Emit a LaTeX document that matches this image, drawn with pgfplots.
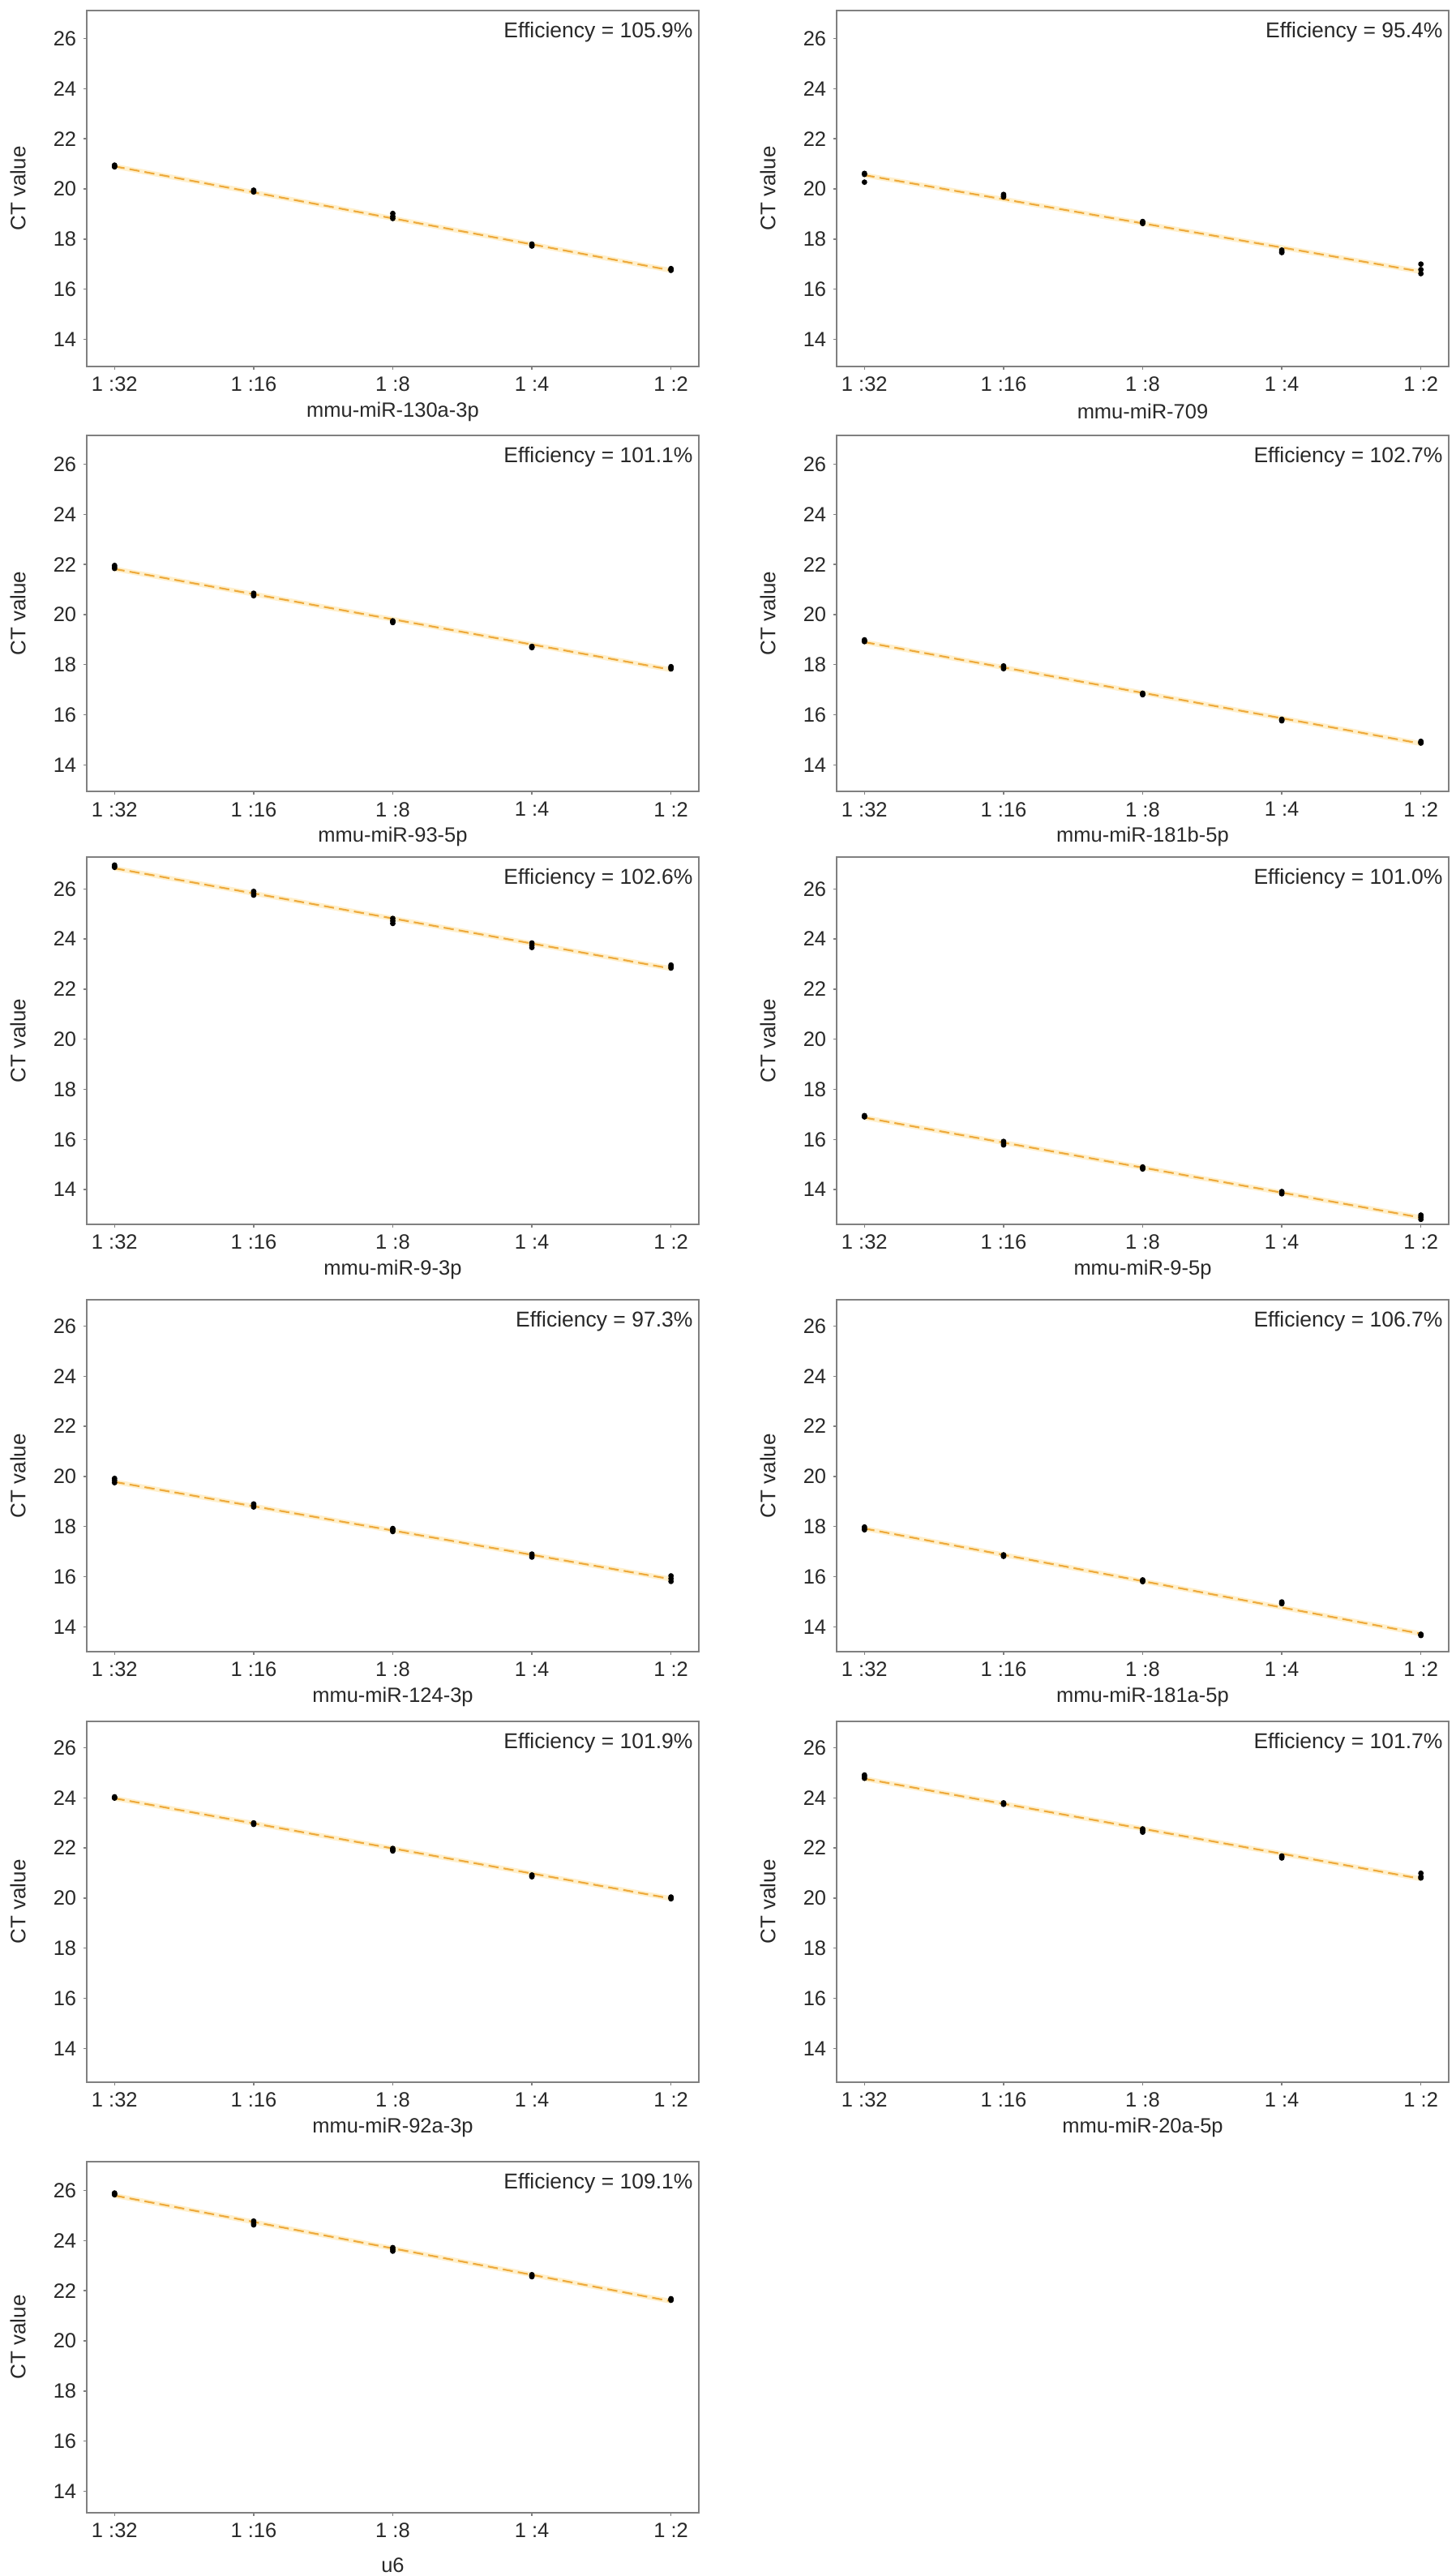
\documentclass[border=0pt]{standalone}
\usepackage{pgfplots}
\pgfplotsset{compat=1.18}
\usepackage{fontspec}
\setmainfont{Liberation Sans}

\definecolor{framegray}{RGB}{128,128,128}
\definecolor{labelgray}{RGB}{40,40,40}
\definecolor{fitorange}{RGB}{238,170,60}
\definecolor{bandyellow}{RGB}{255,240,205}

\pgfplotsset{
  panel/.style={
    scale only axis, width=302pt, y=12.36pt, anchor=north west,
    xmin=0.8, xmax=5.2,
    xtick={1,2,3,4,5}, xticklabels={1 :32,1 :16,1 :8,1 :4,1 :2},
    ytick={14,16,18,20,22,24,26},
    /pgf/number format/assume math mode=true,
    axis line style={draw=framegray, line width=0.8pt},
    tick align=outside, tick pos=left, major tick length=1.6pt,
    every tick/.style={draw=framegray, line width=0.6pt},
    tick label style={text=labelgray, font=\fontsize{10.2}{12}\selectfont},
    ylabel={CT value},
    every axis y label/.style={at={(axis description cs:-0.1126,0.5)}, anchor=center,
      rotate=90, text=labelgray, font=\fontsize{10.4}{12}\selectfont},
    every axis x label/.style={at={(axis description cs:0.5,0)}, anchor=center,
      yshift=-22.4pt, text=labelgray, font=\fontsize{10.2}{12}\selectfont},
  },
  fitband/.style={no marks, draw=bandyellow, line width=2.4pt, forget plot},
  fitline/.style={no marks, draw=fitorange, line width=0.85pt, dash pattern=on 5pt off 2.5pt},
  reps/.style={only marks, mark=*, mark size=1.15pt, black},
}
\tikzset{eff/.style={anchor=north east, inner sep=0pt, xshift=-2.8pt, yshift=-5.6pt,
  text=labelgray, font=\fontsize{10.6}{12}\selectfont}}

\begin{document}
\begin{tikzpicture}
\path[use as bounding box] (0,0) rectangle (718pt,-1270.8pt);

% row 1
\begin{axis}[panel, at={(42.8pt,-5.2pt)}, ymin=12.92, ymax=27.12, xlabel={mmu-miR-130a-3p}]
\addplot[fitband] coordinates {(1,20.9) (5,16.75)};
\addplot[fitline] coordinates {(1,20.9) (5,16.75)};
\addplot[reps] coordinates {(1,20.95) (1,20.9) (1,20.88) (2,19.95) (2,19.9) (2,19.88)
  (3,19.02) (3,18.9) (3,18.82) (4,17.8) (4,17.75) (4,17.72) (5,16.82) (5,16.78) (5,16.75)};
\node[eff] at (axis description cs:1,1) {Efficiency = 105.9\%};
\end{axis}

\begin{axis}[panel, at={(412.8pt,-5.2pt)}, ymin=12.92, ymax=27.12, xlabel={mmu-miR-709}]
\addplot[fitband] coordinates {(1,20.55) (5,16.7)};
\addplot[fitline] coordinates {(1,20.55) (5,16.7)};
\addplot[reps] coordinates {(1,20.62) (1,20.58) (1,20.27) (2,19.78) (2,19.72) (2,19.68)
  (3,18.7) (3,18.66) (3,18.62) (4,17.56) (4,17.5) (4,17.46) (5,17.0) (5,16.78) (5,16.62)};
\node[eff] at (axis description cs:1,1) {Efficiency = 95.4\%};
\end{axis}

% row 2
\begin{axis}[panel, at={(42.8pt,-214.8pt)}, ymin=12.93, ymax=27.15, xlabel={mmu-miR-93-5p}]
\addplot[fitband] coordinates {(1,21.82) (5,17.8)};
\addplot[fitline] coordinates {(1,21.82) (5,17.8)};
\addplot[reps] coordinates {(1,21.96) (1,21.9) (1,21.84) (2,20.85) (2,20.8) (2,20.75)
  (3,19.75) (3,19.72) (3,19.68) (4,18.73) (4,18.7) (4,18.68) (5,17.92) (5,17.88) (5,17.83)};
\node[eff] at (axis description cs:1,1) {Efficiency = 101.1\%};
\end{axis}

\begin{axis}[panel, at={(412.8pt,-214.8pt)}, ymin=12.93, ymax=27.15, xlabel={mmu-miR-181b-5p}]
\addplot[fitband] coordinates {(1,18.9) (5,14.85)};
\addplot[fitline] coordinates {(1,18.9) (5,14.85)};
\addplot[reps] coordinates {(1,18.99) (1,18.95) (1,18.92) (2,17.95) (2,17.9) (2,17.84)
  (3,16.86) (3,16.83) (3,16.8) (4,15.82) (4,15.79) (4,15.76) (5,14.94) (5,14.9) (5,14.87)};
\node[eff] at (axis description cs:1,1) {Efficiency = 102.7\%};
\end{axis}

% row 3
\begin{axis}[panel, at={(42.8pt,-422.8pt)}, ymin=12.6, ymax=27.27, xlabel={mmu-miR-9-3p}]
\addplot[fitband] coordinates {(1,26.82) (5,22.82)};
\addplot[fitline] coordinates {(1,26.82) (5,22.82)};
\addplot[reps] coordinates {(1,26.95) (1,26.9) (1,26.86) (2,25.9) (2,25.82) (2,25.75)
  (3,24.82) (3,24.72) (3,24.62) (4,23.84) (4,23.75) (4,23.66) (5,22.96) (5,22.9) (5,22.84)};
\node[eff] at (axis description cs:1,1) {Efficiency = 102.6\%};
\end{axis}

\begin{axis}[panel, at={(412.8pt,-422.8pt)}, ymin=12.6, ymax=27.27, xlabel={mmu-miR-9-5p}]
\addplot[fitband] coordinates {(1,16.87) (5,12.88)};
\addplot[fitline] coordinates {(1,16.87) (5,12.88)};
\addplot[reps] coordinates {(1,16.95) (1,16.92) (1,16.9) (2,15.92) (2,15.85) (2,15.78)
  (3,14.9) (3,14.86) (3,14.82) (4,13.92) (4,13.87) (4,13.83) (5,12.98) (5,12.9) (5,12.81)};
\node[eff] at (axis description cs:1,1) {Efficiency = 101.0\%};
\end{axis}

% row 4
\begin{axis}[panel, at={(42.8pt,-641.2pt)}, ymin=13.0, ymax=27.05, xlabel={mmu-miR-124-3p}]
\addplot[fitband] coordinates {(1,19.78) (5,15.9)};
\addplot[fitline] coordinates {(1,19.78) (5,15.9)};
\addplot[reps] coordinates {(1,19.92) (1,19.84) (1,19.75) (2,18.9) (2,18.84) (2,18.78)
  (3,17.92) (3,17.86) (3,17.8) (4,16.9) (4,16.84) (4,16.78) (5,16.03) (5,15.92) (5,15.81)};
\node[eff] at (axis description cs:1,1) {Efficiency = 97.3\%};
\end{axis}

\begin{axis}[panel, at={(412.8pt,-641.2pt)}, ymin=13.0, ymax=27.05, xlabel={mmu-miR-181a-5p}]
\addplot[fitband] coordinates {(1,17.92) (5,13.72)};
\addplot[fitline] coordinates {(1,17.92) (5,13.72)};
\addplot[reps] coordinates {(1,17.98) (1,17.92) (1,17.87) (2,16.87) (2,16.84) (2,16.81)
  (3,15.87) (3,15.84) (3,15.8) (4,14.99) (4,14.95) (4,14.92) (5,13.7) (5,13.67) (5,13.65)};
\node[eff] at (axis description cs:1,1) {Efficiency = 106.7\%};
\end{axis}

% row 5
\begin{axis}[panel, at={(42.8pt,-849.2pt)}, ymin=12.65, ymax=27.05, xlabel={mmu-miR-92a-3p}]
\addplot[fitband] coordinates {(1,23.98) (5,19.98)};
\addplot[fitline] coordinates {(1,23.98) (5,19.98)};
\addplot[reps] coordinates {(1,24.04) (1,24.01) (1,23.99) (2,23.0) (2,22.97) (2,22.94)
  (3,21.98) (3,21.93) (3,21.88) (4,20.92) (4,20.88) (4,20.85) (5,20.04) (5,20.0) (5,19.97)};
\node[eff] at (axis description cs:1,1) {Efficiency = 101.9\%};
\end{axis}

\begin{axis}[panel, at={(412.8pt,-849.2pt)}, ymin=12.65, ymax=27.05, xlabel={mmu-miR-20a-5p}]
\addplot[fitband] coordinates {(1,24.76) (5,20.77)};
\addplot[fitline] coordinates {(1,24.76) (5,20.77)};
\addplot[reps] coordinates {(1,24.91) (1,24.85) (1,24.78) (2,23.8) (2,23.77) (2,23.74)
  (3,22.76) (3,22.7) (3,22.63) (4,21.68) (4,21.64) (4,21.6) (5,20.99) (5,20.85) (5,20.8)};
\node[eff] at (axis description cs:1,1) {Efficiency = 101.7\%};
\end{axis}

% row 6
\begin{axis}[panel, at={(42.8pt,-1066.4pt)}, ymin=13.14, ymax=27.15, xlabel={u6},
  every axis x label/.append style={yshift=-3.6pt}]
\addplot[fitband] coordinates {(1,25.8) (5,21.58)};
\addplot[fitline] coordinates {(1,25.8) (5,21.58)};
\addplot[reps] coordinates {(1,25.9) (1,25.86) (1,25.83) (2,24.78) (2,24.7) (2,24.63)
  (3,23.72) (3,23.65) (3,23.58) (4,22.64) (4,22.6) (4,22.56) (5,21.68) (5,21.65) (5,21.62)};
\node[eff] at (axis description cs:1,1) {Efficiency = 109.1\%};
\end{axis}
\end{tikzpicture}
\end{document}
